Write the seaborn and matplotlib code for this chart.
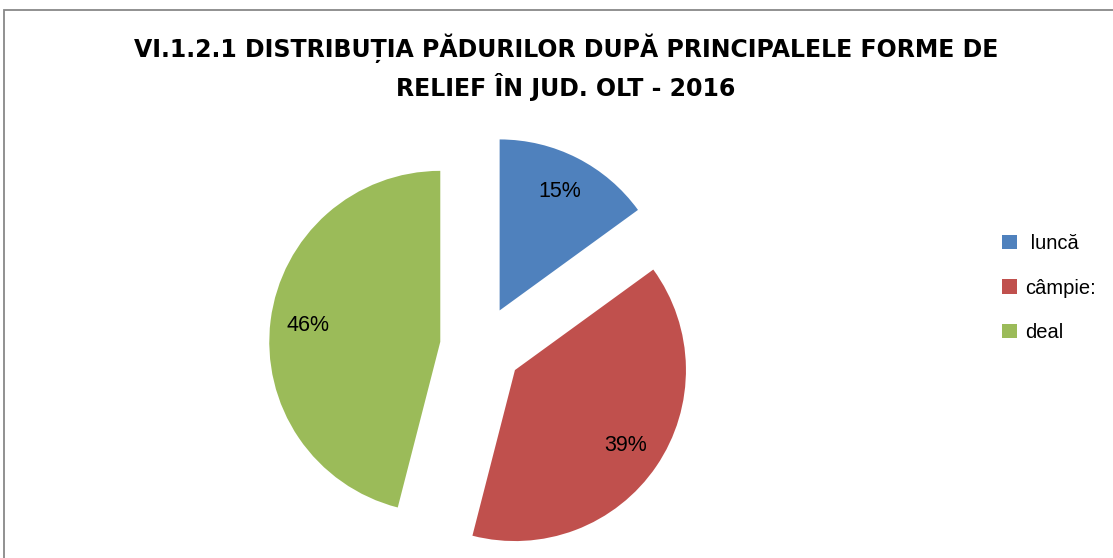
import matplotlib
matplotlib.use('Agg')
import matplotlib.pyplot as plt
import seaborn as sns
from matplotlib.patches import Rectangle

# Data
labels = [' luncă', 'câmpie:', 'deal']
values = [15, 39, 46]
colors = ['#4F81BD', '#C0504D', '#9BBB59']
title_lines = ['VI.1.2.1 DISTRIBUȚIA PĂDURILOR DUPĂ PRINCIPALELE FORME DE',
               'RELIEF ÎN JUD. OLT - 2016']

sns.set_style('white')
plt.rcParams['font.family'] = ['Liberation Sans', 'DejaVu Sans']
plt.rcParams['text.color'] = 'black'

W, H = 1113, 558
fig = plt.figure(figsize=(W / 100, H / 100), dpi=100)

# axes placed in pixels so the pie sits where it does in the reference
left, right, top, bottom = 100, 900, 120, 558
ax = fig.add_axes([left / W, (H - bottom) / H, (right - left) / W, (bottom - top) / H])

wedges, texts, autotexts = ax.pie(
    values, colors=colors, startangle=90, counterclock=False,
    explode=[0.24, 0.24, 0.24], autopct='%1.0f%%', pctdistance=0.78,
    textprops={'fontsize': 15.5, 'color': 'black'},
    wedgeprops={'linewidth': 0},
)
for w in wedges:
    w.set_clip_on(False)

cx, cy, r = 481, 347, 171
ax.set_aspect('auto')
ax.set_xlim((left - cx) / r, (right - cx) / r)
ax.set_ylim(-(bottom - cy) / r, (cy - top) / r)
ax.axis('off')

# title, two centred lines
title_font = ['DejaVu Sans']
fig.text(566 / W, 1 - 48 / H, title_lines[0], ha='center', va='center',
         fontsize=17, fontweight='bold', family=title_font, color='black')
fig.text(566 / W, 1 - 87 / H, title_lines[1], ha='center', va='center',
         fontsize=17, fontweight='bold', family=title_font, color='black')

# legend on the right
leg = fig.legend(wedges, labels, loc='center left',
                 bbox_to_anchor=(992 / W, 1 - 288 / H),
                 frameon=False, fontsize=14.5, handlelength=0.75,
                 handleheight=0.75, handletextpad=0.4, labelspacing=1.27,
                 borderpad=0, labelcolor='black')

# outer chart border (top and left visible)
fig.patches.append(Rectangle((4 / W, -0.1), 1.2, (H - 10) / H + 0.1,
                             transform=fig.transFigure, fill=False,
                             edgecolor='#888888', linewidth=1.3))

fig.savefig('out.png', dpi=100)
